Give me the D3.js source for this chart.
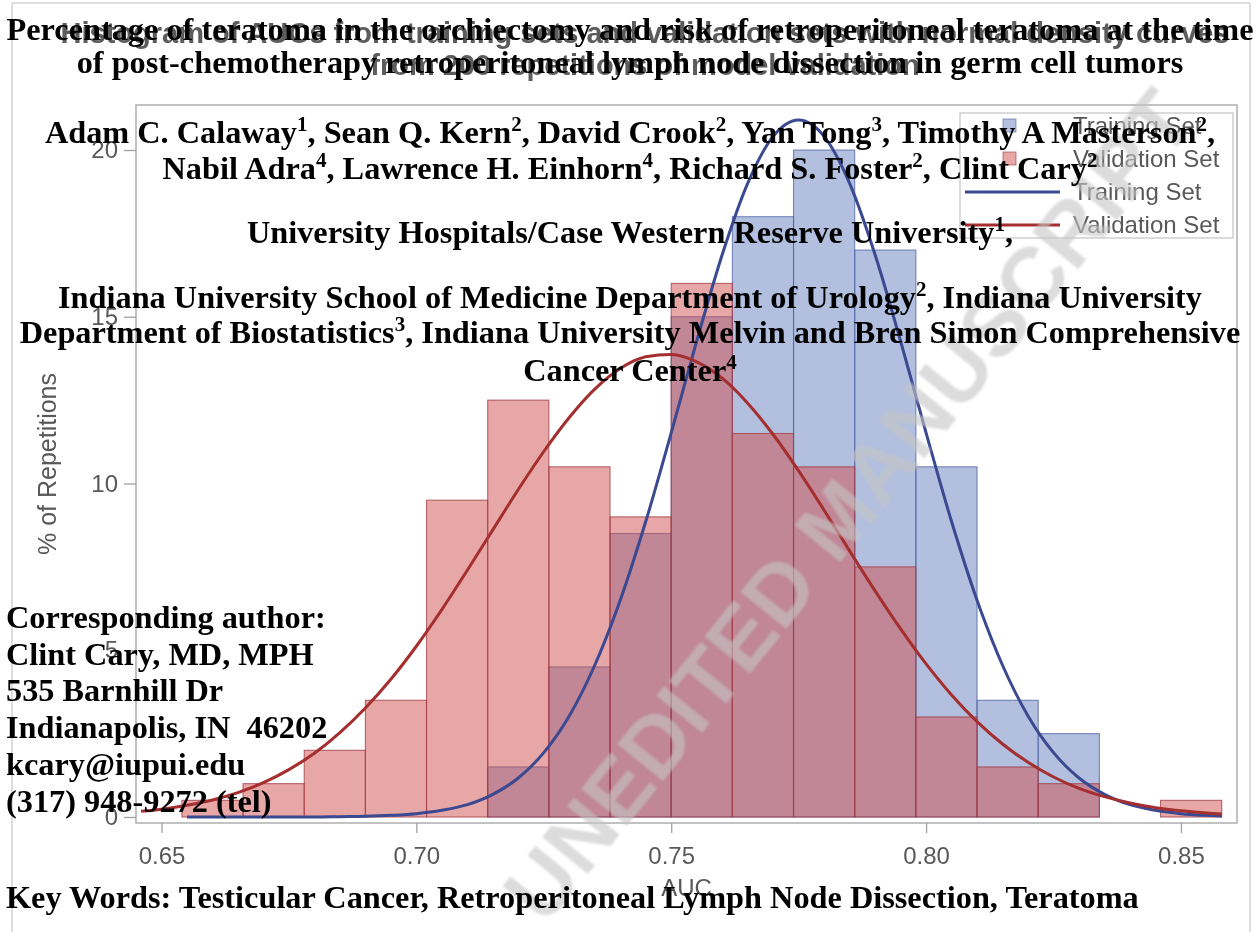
<!DOCTYPE html>
<html><head><meta charset="utf-8">
<script src="https://cdn.jsdelivr.net/npm/d3@7"></script>
<style>
html,body{margin:0;padding:0;background:#fff;}
svg{display:block;}
</style></head><body>
<svg id="chart" width="1260" height="932"></svg>
<script>
// ---------- data ----------
const binMidpoints = [0.660,0.672,0.684,0.696,0.708,0.720,0.732,0.744,0.756,0.768,0.780,0.792,0.804,0.816,0.828,0.840,0.852];
const binWidth = 0.012;
const trainingPct   = [0,0,0,0,0,1.5,4.5,8.5,15,18,20,17,10.5,3.5,2.5,0,0];
const validationPct = [0.5,1,2,3.5,9.5,12.5,10.5,9,16,11.5,10.5,7.5,3,1.5,1,0,0.5];
const densityGrid = [0.646,0.650,0.655,0.660,0.665,0.670,0.675,0.680,0.685,0.690,0.695,0.700,0.705,0.710,0.715,0.720,0.725,0.730,0.735,0.740,0.745,0.750,0.755,0.760,0.765,0.770,0.775,0.780,0.785,0.790,0.795,0.800,0.805,0.810,0.815,0.820,0.825,0.830,0.835,0.840,0.845,0.850,0.855,0.858];
const trainingDensity = [null,null,0.00,0.00,0.00,0.00,0.00,0.00,0.01,0.02,0.05,0.10,0.20,0.37,0.68,1.17,1.93,3.03,4.55,6.50,8.86,11.52,14.27,16.86,19.00,20.41,20.90,20.41,19.00,16.86,14.27,11.52,8.86,6.50,4.55,3.03,1.93,1.17,0.68,0.37,0.20,0.10,0.05,0.03];
const validationDensity = [0.17,0.23,0.35,0.51,0.73,1.03,1.42,1.91,2.53,3.27,4.13,5.12,6.22,7.40,8.61,9.82,10.96,11.98,12.83,13.45,13.80,13.87,13.65,13.16,12.41,11.47,10.38,9.20,7.98,6.78,5.64,4.59,3.66,2.86,2.19,1.64,1.20,0.86,0.61,0.42,0.28,0.19,0.12,0.09];
const xTickValues = [0.65,0.70,0.75,0.80,0.85];
const yTickValues = [0,5,10,15,20];
const seriesNames = ["Training Set","Validation Set"];
const chartTitle = ["Histogram of AUCs from training sets and validation sets with normal density curves",
                    "from 200 repetitions of model validation"];
const xLabel = "AUC";
const yLabel = "% of Repetitions";
const watermarkText = "UNEDITED MANUSCRIPT";
// manuscript text (^n^ = superscript)
const headerLines = [
  "Percentage of teratoma in the orchiectomy and risk of retroperitoneal teratoma at the time",
  "of post-chemotherapy retroperitoneal lymph node dissection in germ cell tumors",
  "Adam C. Calaway^1^, Sean Q. Kern^2^, David Crook^2^, Yan Tong^3^, Timothy A Masterson^2^,",
  "Nabil Adra^4^, Lawrence H. Einhorn^4^, Richard S. Foster^2^, Clint Cary^2^",
  "University Hospitals/Case Western Reserve University^1^,",
  "Indiana University School of Medicine Department of Urology^2^, Indiana University",
  "Department of Biostatistics^3^, Indiana University Melvin and Bren Simon Comprehensive",
  "Cancer Center^4^"
];
const contactLines = ["Corresponding author:","Clint Cary, MD, MPH","535 Barnhill Dr","Indianapolis, IN  46202","kcary@iupui.edu","(317) 948-9272 (tel)"];
const keyWordsLine = "Key Words: Testicular Cancer, Retroperitoneal Lymph Node Dissection, Teratoma";

// ---------- layout ----------
const svg = d3.select("#chart");
const frame = {left:136, right:1237, top:105, bottom:823};
const x = d3.scaleLinear().domain([0.645, 0.861]).range([frame.left, frame.right]);
const y = d3.scaleLinear().domain([-0.18, 21.35]).range([frame.bottom, frame.top]);
const sansFont = "'Liberation Sans', Arial, sans-serif";
const serifFont = "'Liberation Serif', 'Times New Roman', serif";
const gray = "#585858";
const bodySize = "32.3px";

const defs = svg.append("defs");
defs.append("filter").attr("id","soft").attr("x","-5%").attr("y","-5%").attr("width","110%").attr("height","110%")
  .append("feGaussianBlur").attr("stdDeviation",0.65);
defs.append("filter").attr("id","softer")
  .append("feGaussianBlur").attr("stdDeviation",1.2);

svg.append("rect").attr("width",1260).attr("height",932).attr("fill","#fff");
// page borders
svg.append("line").attr("x1",12).attr("x2",12).attr("y1",3).attr("y2",932).attr("stroke","#d2d2d2").attr("stroke-width",1.5);
svg.append("line").attr("x1",1250).attr("x2",1250).attr("y1",3).attr("y2",932).attr("stroke","#d2d2d2").attr("stroke-width",1.5);
svg.append("line").attr("x1",12).attr("x2",1250).attr("y1",3).attr("y2",3).attr("stroke","#d2d2d2").attr("stroke-width",1.5);

const g = svg.append("g").attr("filter","url(#soft)");

const trainBins = binMidpoints.map((m,i)=>({m, v:trainingPct[i]})).filter(d=>d.v>0);
const valBins = binMidpoints.map((m,i)=>({m, v:validationPct[i]})).filter(d=>d.v>0);

g.append("g").selectAll("rect").data(trainBins).join("rect")
  .attr("x", d=>x(d.m-binWidth/2)).attr("width", d=>x(d.m+binWidth/2)-x(d.m-binWidth/2))
  .attr("y", d=>y(d.v)).attr("height", d=>y(0)-y(d.v))
  .attr("fill","rgb(102,128,191)").attr("fill-opacity",0.5)
  .attr("stroke","rgb(80,100,165)").attr("stroke-opacity",0.75).attr("stroke-width",1.1);

g.append("g").selectAll("rect").data(valBins).join("rect")
  .attr("x", d=>x(d.m-binWidth/2)).attr("width", d=>x(d.m+binWidth/2)-x(d.m-binWidth/2))
  .attr("y", d=>y(d.v)).attr("height", d=>y(0)-y(d.v))
  .attr("fill","rgb(209,77,77)").attr("fill-opacity",0.5)
  .attr("stroke","rgb(160,60,66)").attr("stroke-opacity",0.75).attr("stroke-width",1.1);

const line = d3.line().defined(d=>d[1]!=null).x(d=>x(d[0])).y(d=>y(d[1])).curve(d3.curveMonotoneX);
g.append("path").datum(densityGrid.map((a,i)=>[a,trainingDensity[i]]))
  .attr("d",line).attr("fill","none").attr("stroke","rgb(58,72,145)").attr("stroke-width",3);
g.append("path").datum(densityGrid.map((a,i)=>[a,validationDensity[i]]))
  .attr("d",line).attr("fill","none").attr("stroke","rgb(165,45,45)").attr("stroke-width",3);

// frame
g.append("rect").attr("x",frame.left).attr("y",frame.top)
  .attr("width",frame.right-frame.left).attr("height",frame.bottom-frame.top)
  .attr("fill","none").attr("stroke","#a8a8a8").attr("stroke-width",1.4);

// axes
const xAxis = g.append("g").attr("transform",`translate(0,${frame.bottom})`)
  .call(d3.axisBottom(x).tickValues(xTickValues).tickFormat(d3.format(".2f")).tickSize(10).tickPadding(14));
const yAxis = g.append("g").attr("transform",`translate(${frame.left},0)`)
  .call(d3.axisLeft(y).tickValues(yTickValues).tickSize(12).tickPadding(6));
[xAxis,yAxis].forEach(a=>{
  a.select(".domain").remove();
  a.selectAll(".tick line").attr("stroke","#a0a0a0").attr("stroke-width",1.3);
  a.selectAll(".tick text").attr("fill",gray).style("font-family",sansFont).style("font-size","24px");
});

g.append("text").attr("x",(frame.left+frame.right)/2).attr("y",896).attr("text-anchor","middle")
  .attr("fill",gray).style("font-family",sansFont).style("font-size","24px").text(xLabel);
g.append("text").attr("transform",`translate(56,${(frame.top+frame.bottom)/2}) rotate(-90)`).attr("text-anchor","middle")
  .attr("fill",gray).style("font-family",sansFont).style("font-size","25px").text(yLabel);

// legend
const lg = g.append("g");
lg.append("rect").attr("x",960).attr("y",113).attr("width",273).attr("height",125)
  .attr("fill","#fff").attr("stroke","#c4c4c4").attr("stroke-width",1.2);
const legendRows = [
  {name:seriesNames[0], kind:"box", fill:"rgb(102,128,191)", stroke:"rgb(80,100,165)"},
  {name:seriesNames[1], kind:"box", fill:"rgb(209,77,77)", stroke:"rgb(160,60,66)"},
  {name:seriesNames[0], kind:"line", stroke:"rgb(58,72,145)"},
  {name:seriesNames[1], kind:"line", stroke:"rgb(165,45,45)"}
];
legendRows.forEach((r,i)=>{
  const cy = 126 + i*33;
  if(r.kind==="box"){
    lg.append("rect").attr("x",1003).attr("y",cy-7).attr("width",13).attr("height",13)
      .attr("fill",r.fill).attr("fill-opacity",0.5).attr("stroke",r.stroke).attr("stroke-opacity",0.6);
  } else {
    lg.append("line").attr("x1",965).attr("x2",1060).attr("y1",cy).attr("y2",cy)
      .attr("stroke",r.stroke).attr("stroke-width",3);
  }
  lg.append("text").attr("x",1073).attr("y",cy+8).attr("fill",gray)
    .style("font-family",sansFont).style("font-size","24px").text(r.name);
});

// chart title (gray)
[43,75].forEach((by,i)=>{
  g.append("text").attr("x",645).attr("y",by).attr("text-anchor","middle")
    .attr("fill","#5c5c5c").style("font-family",sansFont).style("font-weight","bold").style("font-size","29px")
    .text(chartTitle[i]);
});

// watermark
svg.append("text").attr("transform","translate(848,505) rotate(-51)")
  .attr("text-anchor","middle").attr("dominant-baseline","central")
  .attr("fill","rgb(196,196,196)").attr("fill-opacity",0.6).attr("filter","url(#softer)")
  .style("font-family",sansFont).style("font-weight","bold").style("font-size","86px")
  .text(watermarkText);

// manuscript text (black)
function richText(sel, str){
  const parts = str.split("^");
  let prevSup = false;
  parts.forEach((p,i)=>{
    if(p==="") return;
    const sup = i%2===1;
    const t = sel.append("tspan").text(p);
    if(sup){ t.attr("dy",-12).style("font-size","21px"); prevSup = true; }
    else if(prevSup){ t.attr("dy",12); prevSup = false; }
  });
}
const headerBaselines = [40,73,143,179,243,308,343,381];
headerLines.forEach((s,i)=>{
  const t = svg.append("text").attr("x",630).attr("y",headerBaselines[i]).attr("text-anchor","middle")
    .attr("fill","#000").style("font-family",serifFont).style("font-weight","bold").style("font-size",bodySize)
    .style("white-space","pre");
  richText(t,s);
});
contactLines.forEach((s,i)=>{
  svg.append("text").attr("x",6).attr("y",628+i*36.7)
    .attr("fill","#000").style("font-family",serifFont).style("font-weight","bold").style("font-size",bodySize)
    .style("white-space","pre").text(s);
});
svg.append("text").attr("x",6).attr("y",908)
  .attr("fill","#000").style("font-family",serifFont).style("font-weight","bold").style("font-size",bodySize)
  .text(keyWordsLine);
</script>
</body></html>
